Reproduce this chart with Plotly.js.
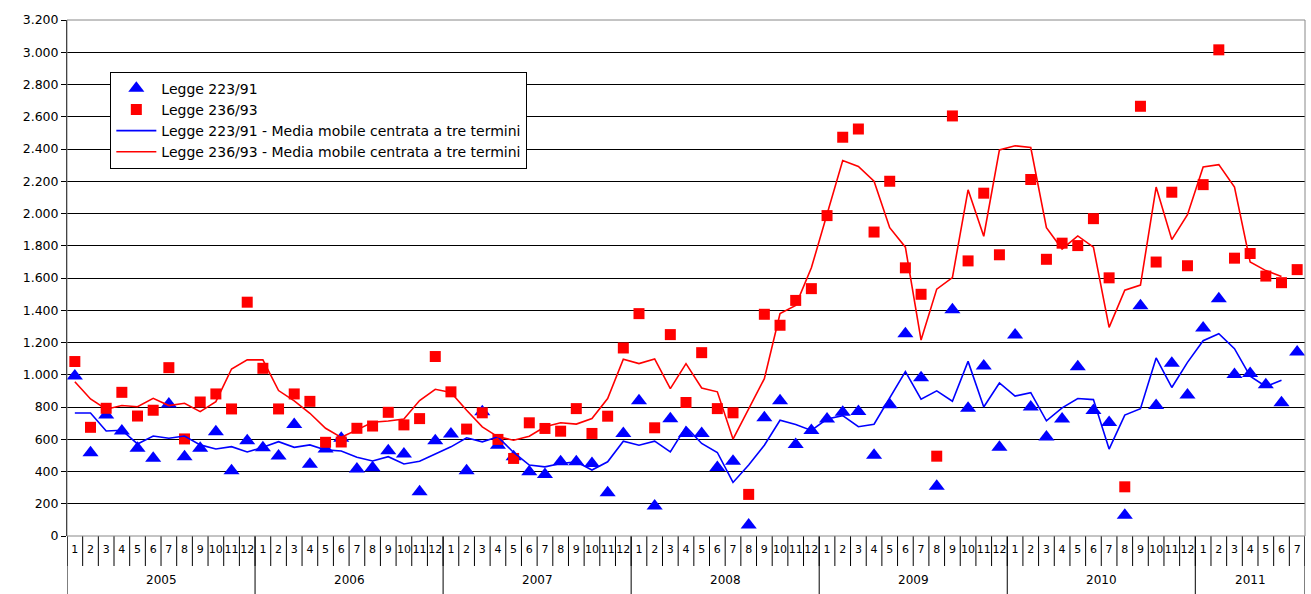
<!DOCTYPE html>
<html><head><meta charset="utf-8">
<script src="https://cdn.plot.ly/plotly-3.0.1.min.js"></script>
<style>body{margin:0}#c{width:1311px;height:594px}</style></head>
<body><div id="c"></div>
<script>
var years = ["2005","2006","2007","2008","2009","2010","2011"];
var monthsPerYear = [12,12,12,12,12,12,7];
var legge223 = [993,517,751,651,544,482,819,492,544,647,405,591,
 548,496,691,445,540,606,416,424,529,509,275,591,
 632,405,770,563,491,398,382,460,460,450,268,636,
 838,186,727,636,636,425,464,68,733,838,568,655,
 725,768,772,501,814,1254,981,309,1403,793,1055,550,
 1247,800,614,725,1049,778,704,128,1428,810,1072,874,
 1290,1471,1002,1008,938,827,1141];
var legge236 = [1082,674,792,891,744,780,1044,602,831,881,788,1450,
 1040,788,881,835,581,583,668,682,767,689,728,1113,
 894,663,764,599,481,702,667,650,790,636,743,1166,
 1379,671,1249,828,1137,790,764,258,1375,1307,1461,1534,
 1987,2473,2524,1885,2200,1663,1499,495,2605,1706,2126,1744,
 3300,2211,1716,1816,1801,1968,1601,305,2665,1699,2132,1676,
 2179,3015,1723,1752,1612,1571,1652];
var mm223 = [763,763,651,656,571,620,606,620,565,540,554,521,
 550,585,550,565,534,527,488,465,492,447,463,507,
 553,609,584,615,518,440,429,450,460,409,460,588,
 563,588,522,677,574,518,332,440,563,718,691,655,
 725,746,678,693,853,1019,849,900,836,1083,800,949,
 868,889,714,795,853,846,539,750,789,1104,921,1077,
 1211,1254,1162,991,927,966];
var mm236 = [957,850,786,809,802,854,809,823,771,833,1036,1092,
 1092,902,838,761,668,612,658,705,713,726,840,910,
 890,780,677,615,594,619,677,702,694,729,852,1096,
 1069,1098,914,1069,918,894,601,786,976,1379,1430,1663,
 2004,2328,2292,2200,1912,1791,1215,1531,1603,2147,1859,2394,
 2420,2409,1912,1780,1861,1791,1294,1524,1556,2164,1838,1993,
 2288,2303,2164,1699,1646,1610];
var yTickVals = [0,200,400,600,800,1000,1200,1400,1600,1800,2000,2200,2400,2600,2800,3000,3200];
var yTickText = ["0","200","400","600","800","1.000","1.200","1.400","1.600","1.800","2.000","2.200","2.400","2.600","2.800","3.000","3.200"];

var xs=[], mlab=[];
monthsPerYear.forEach(function(n){for(var m=1;m<=n;m++){xs.push(xs.length);mlab.push(String(m));}});
var n=xs.length;
var font="DejaVu Sans";
var traces=[
 {x:xs,y:legge223,mode:'markers',name:'Legge 223/91',marker:{symbol:'triangle-up',size:14,color:'#0000ff'}},
 {x:xs,y:legge236,mode:'markers',name:'Legge 236/93',marker:{symbol:'square',size:11,color:'#ff0000'}},
 {x:xs.slice(0,mm223.length),y:mm223,mode:'lines',name:'Legge 223/91 - Media mobile centrata a tre termini',line:{color:'#0000ff',width:1.6}},
 {x:xs.slice(0,mm236.length),y:mm236,mode:'lines',name:'Legge 236/93 - Media mobile centrata a tre termini',line:{color:'#ff0000',width:1.6}}
];
var H=516, shapes=[], ann=[];
for(var i=0;i<=n;i++){
 shapes.push({type:'line',xref:'x',yref:'paper',x0:i-0.5,x1:i-0.5,y0:0,y1:-30/H,line:{color:'#000',width:1}});
}
var start=0;
shapes.push({type:'line',xref:'x',yref:'paper',x0:-0.5,x1:-0.5,y0:0,y1:-58/H,line:{color:'#000',width:1}});
monthsPerYear.forEach(function(k,j){
 var end=start+k;
 shapes.push({type:'line',xref:'x',yref:'paper',x0:end-0.5,x1:end-0.5,y0:0,y1:-58/H,line:{color:'#000',width:1}});
 ann.push({xref:'x',yref:'paper',x:(start+end-1)/2,y:-44/H,text:years[j],showarrow:false,font:{family:font,size:12,color:'#000'},yanchor:'middle'});
 start=end;
});
shapes.push({type:'rect',xref:'paper',yref:'paper',x0:0,x1:1,y0:0,y1:1,line:{color:'#888',width:1}});
var layout={
 width:1311,height:594,margin:{l:67,r:6,t:20,b:58},
 paper_bgcolor:'#fff',plot_bgcolor:'#fff',showlegend:true,
 font:{family:font,size:12,color:'#000'},
 xaxis:{range:[-0.5,n-0.5],tickmode:'array',tickvals:xs,ticktext:mlab,tickangle:0,showgrid:false,zeroline:false,ticks:'',tickfont:{size:11},ticklabelstandoff:5,fixedrange:true},
 yaxis:{range:[0,3200],tickmode:'array',tickvals:yTickVals,ticktext:yTickText,showgrid:true,gridcolor:'#000',gridwidth:1,zeroline:false,showline:true,linecolor:'#000',ticks:'outside',ticklen:5,tickcolor:'#000',tickfont:{size:12.5}},
 legend:{x:0.035,y:0.9,xanchor:'left',yanchor:'top',bgcolor:'#fff',bordercolor:'#000',borderwidth:1,font:{family:font,size:14},tracegroupgap:0,itemwidth:40},
 shapes:shapes,annotations:ann
};
Plotly.newPlot('c',traces,layout,{displayModeBar:false,staticPlot:true});
</script></body></html>
